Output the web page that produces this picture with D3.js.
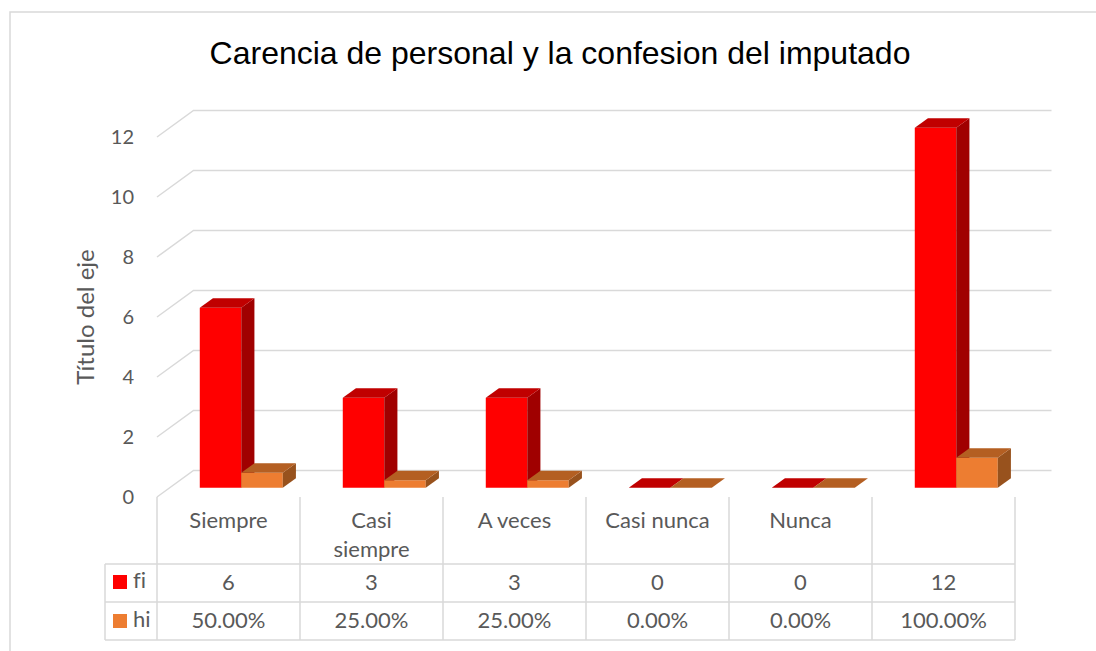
<!DOCTYPE html>
<html>
<head>
<meta charset="utf-8">
<script src="https://cdn.jsdelivr.net/npm/d3@7"></script>
<style>
  html, body { margin: 0; padding: 0; background: #fff; }
  svg { display: block; }
  .lbl {
    font-family: Lato, "Open Sans", sans-serif;
    fill: #595959;
    font-variant-ligatures: none;
    font-feature-settings: "liga" 0, "clig" 0;
  }
</style>
</head>
<body>
<svg id="chart" width="1096" height="651"></svg>
<script>
const chartTitle = "Carencia de personal y la confesion del imputado";
const axisTitle = "Título del eje";
const categories = ["Siempre", "Casi siempre", "A veces", "Casi nunca", "Nunca", ""];
const seriesNames = ["fi", "hi"];
const fiValues = [6, 3, 3, 0, 0, 12];
const hiValues = [0.5, 0.25, 0.25, 0, 0, 1];
const fiLabels = ["6", "3", "3", "0", "0", "12"];
const hiLabels = ["50.00%", "25.00%", "25.00%", "0.00%", "0.00%", "100.00%"];
const yTicks = [0, 2, 4, 6, 8, 10, 12];

const COLORS = {
  fi: { front: "#ff0000", top: "#c00000", side: "#a00000" },
  hi: { front: "#ed7d31", top: "#b45f22", side: "#98521d" }
};
const GRID = "#d9d9d9";
const DEPTH_X = 36.5;
const DEPTH_Y = 26.5;
const BAR_NEAR = 0.35;
const BAR_FAR = 0.71;

const svg = d3.select("#chart");

const x = d3.scaleBand().domain(d3.range(categories.length)).range([157, 1015]);
const xInner = d3.scaleBand().domain(seriesNames).range([0, x.bandwidth()]).paddingOuter(0.723);
const y = d3.scaleLinear().domain([0, 12]).range([497, 137]);

function project(xf, value, depth) {
  return [xf + depth * DEPTH_X, y(value) - depth * DEPTH_Y];
}

function polygon(points) {
  return "M" + points.map((p) => p.join(",")).join("L") + "Z";
}

// outer frame
svg.append("rect")
  .attr("x", 10).attr("y", 12)
  .attr("width", 1200).attr("height", 800)
  .attr("fill", "none").attr("stroke", GRID).attr("stroke-width", 1.5);

// title
svg.append("text")
  .attr("x", 560).attr("y", 64)
  .attr("text-anchor", "middle")
  .attr("font-family", "'Liberation Sans', Arial, sans-serif")
  .attr("font-size", 32)
  .attr("fill", "#000")
  .text(chartTitle);

// gridlines (left wall + back wall)
const xStart = x.range()[0];
const xEnd = x.range()[1];
svg.append("g")
  .selectAll("path")
  .data(yTicks)
  .join("path")
  .attr("d", (t) => {
    const a = project(xStart, t, 0);
    const b = project(xStart, t, 1);
    const c = project(xEnd, t, 1);
    return `M${a}L${b}L${c}`;
  })
  .attr("fill", "none")
  .attr("stroke", GRID)
  .attr("stroke-width", 1.5);

// tick labels
svg.append("g")
  .selectAll("text")
  .data(yTicks)
  .join("text")
  .attr("class", "lbl")
  .attr("x", 134)
  .attr("y", (t) => y(t) + 7)
  .attr("text-anchor", "end")
  .attr("font-size", 20)
  .text((t) => t);

// axis title
svg.append("text")
  .attr("class", "lbl")
  .attr("transform", "translate(94,317) rotate(-90)")
  .attr("text-anchor", "middle")
  .attr("font-size", 24)
  .text(axisTitle);

// bars
const bars = [];
categories.forEach((cat, i) => {
  seriesNames.forEach((s) => {
    const value = s === "fi" ? fiValues[i] : hiValues[i];
    bars.push({ i, s, value });
  });
});

const barGroup = svg.append("g")
  .selectAll("g")
  .data(bars)
  .join("g");

barGroup.each(function (d) {
  const g = d3.select(this);
  const x0 = x(d.i) + xInner(d.s);
  const x1 = x0 + xInner.bandwidth();
  const colors = COLORS[d.s];

  if (d.value > 0) {
    g.append("path")
      .attr("d", polygon([project(x0, d.value, BAR_NEAR), project(x1, d.value, BAR_NEAR), project(x1, 0, BAR_NEAR), project(x0, 0, BAR_NEAR)]))
      .attr("fill", colors.front);
    g.append("path")
      .attr("d", polygon([project(x1, d.value, BAR_NEAR), project(x1, 0, BAR_NEAR), project(x1, 0, BAR_FAR), project(x1, d.value, BAR_FAR)]))
      .attr("fill", colors.side);
  }

  g.append("path")
    .attr("d", polygon([project(x0, d.value, BAR_NEAR), project(x1, d.value, BAR_NEAR), project(x1, d.value, BAR_FAR), project(x0, d.value, BAR_FAR)]))
    .attr("fill", colors.top);
});

// data table
const rowTop = 564;
const rowMid = 602;
const rowBottom = 640;
const legendLeft = 105;
const table = svg.append("g")
  .attr("stroke", GRID)
  .attr("stroke-width", 1.5)
  .attr("fill", "none");

table.selectAll("line.v")
  .data(d3.range(categories.length + 1))
  .join("line")
  .attr("class", "v")
  .attr("x1", (i) => xStart + i * x.step())
  .attr("x2", (i) => xStart + i * x.step())
  .attr("y1", y(0))
  .attr("y2", rowBottom);

table.selectAll("line.h")
  .data([rowTop, rowMid, rowBottom])
  .join("line")
  .attr("class", "h")
  .attr("x1", legendLeft)
  .attr("x2", xEnd)
  .attr("y1", (d) => d)
  .attr("y2", (d) => d);

table.append("line")
  .attr("x1", legendLeft).attr("x2", legendLeft)
  .attr("y1", rowTop).attr("y2", rowBottom);

// category labels ("Casi siempre" wraps in the reference)
const catText = svg.append("g")
  .selectAll("text")
  .data(categories)
  .join("text")
  .attr("class", "lbl")
  .attr("font-size", 22)
  .attr("text-anchor", "middle")
  .attr("x", (d, i) => x(i) + x.bandwidth() / 2)
  .attr("y", 528);

catText.each(function (d, i) {
  const words = d === "Casi siempre" ? ["Casi", "siempre"] : [d];
  d3.select(this).selectAll("tspan")
    .data(words)
    .join("tspan")
    .attr("x", x(i) + x.bandwidth() / 2)
    .attr("dy", (w, k) => (k === 0 ? 0 : 29))
    .text((w) => w);
});

svg.append("g")
  .selectAll("text")
  .data(fiLabels)
  .join("text")
  .attr("class", "lbl")
  .attr("font-size", 22)
  .attr("text-anchor", "middle")
  .attr("x", (d, i) => x(i) + x.bandwidth() / 2)
  .attr("y", 590)
  .text((d) => d);

svg.append("g")
  .selectAll("text")
  .data(hiLabels)
  .join("text")
  .attr("class", "lbl")
  .attr("font-size", 22)
  .attr("text-anchor", "middle")
  .attr("x", (d, i) => x(i) + x.bandwidth() / 2)
  .attr("y", 628)
  .text((d) => d);

// legend keys inside table
const legend = svg.append("g")
  .selectAll("g")
  .data(seriesNames)
  .join("g")
  .attr("transform", (d, k) => `translate(113,${575 + k * 39})`);

legend.append("rect")
  .attr("width", 14).attr("height", 14)
  .attr("fill", (d) => COLORS[d].front);

legend.append("text")
  .attr("class", "lbl")
  .attr("x", 20)
  .attr("y", 13)
  .attr("font-size", 22)
  .text((d) => d);
</script>
</body>
</html>
